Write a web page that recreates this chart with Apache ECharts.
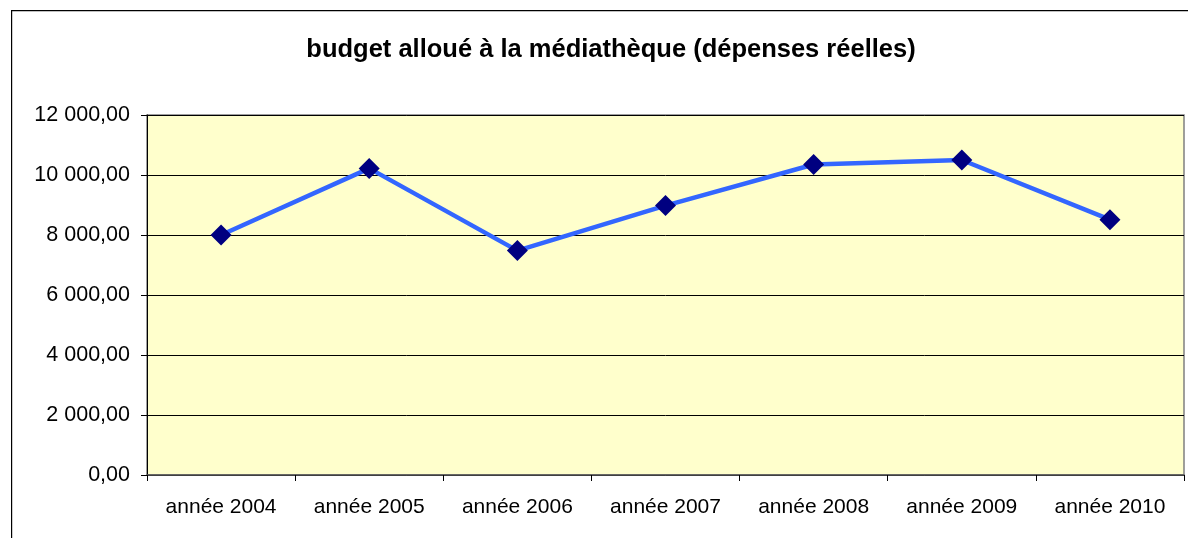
<!DOCTYPE html>
<html><head><meta charset="utf-8">
<script src="https://cdn.jsdelivr.net/npm/echarts@6/dist/echarts.min.js"></script>
<style>html,body{margin:0;padding:0;background:#fff}#c{width:1188px;height:538px}</style>
</head><body><div id="c"></div>
<script>
const categories = ['année 2004','année 2005','année 2006','année 2007','année 2008','année 2009','année 2010'];
const budget = [8000, 10220, 7480, 8980, 10350, 10500, 8510];
const yTicks = [0, 2000, 4000, 6000, 8000, 10000, 12000];

function fmt(v){
  const s = Math.round(v).toString().replace(/\B(?=(\d{3})+(?!\d))/g, ' ');
  return s + ',00';
}

const chart = echarts.init(document.getElementById('c'));
chart.setOption({
  animation: false,
  textStyle: { fontFamily: 'Liberation Sans, Arial, sans-serif' },
  graphic: [{
    type: 'rect', left: 11, top: 10, z: -10,
    shape: { x: 0, y: 0, width: 1200, height: 560 },
    style: { fill: '#fff', stroke: '#000', lineWidth: 1.2 }
  }],
  title: {
    text: 'budget alloué à la médiathèque (dépenses réelles)',
    left: 606, textAlign: 'center', top: 32,
    textStyle: { fontSize: 25.5, fontWeight: 'bold', color: '#000', fontFamily: 'Liberation Sans, Arial, sans-serif' }
  },
  grid: {
    left: 147, top: 115, right: 4, bottom: 63,
    show: true, backgroundColor: '#FFFFCC', borderColor: '#808080', borderWidth: 1.5
  },
  xAxis: {
    type: 'category', data: categories, boundaryGap: true,
    axisLine: { lineStyle: { color: '#555', width: 1.5 } },
    axisTick: { show: true, length: 6, lineStyle: { color: '#000' } },
    axisLabel: { color: '#000', fontSize: 21, margin: 22 }
  },
  yAxis: {
    type: 'value', min: yTicks[0], max: yTicks[yTicks.length-1], interval: 2000,
    axisLine: { show: true, lineStyle: { color: '#000', width: 1 } },
    axisTick: { show: true, length: 6, lineStyle: { color: '#000' } },
    splitLine: { lineStyle: { color: '#000', width: 1 } },
    axisLabel: { color: '#000', fontSize: 21.5, margin: 17, formatter: fmt }
  },
  series: [{
    type: 'line', data: budget,
    lineStyle: { color: '#3366FF', width: 4.5 },
    symbol: 'diamond', symbolSize: 21,
    itemStyle: { color: '#000080', borderWidth: 0 }
  }]
});
</script></body></html>
